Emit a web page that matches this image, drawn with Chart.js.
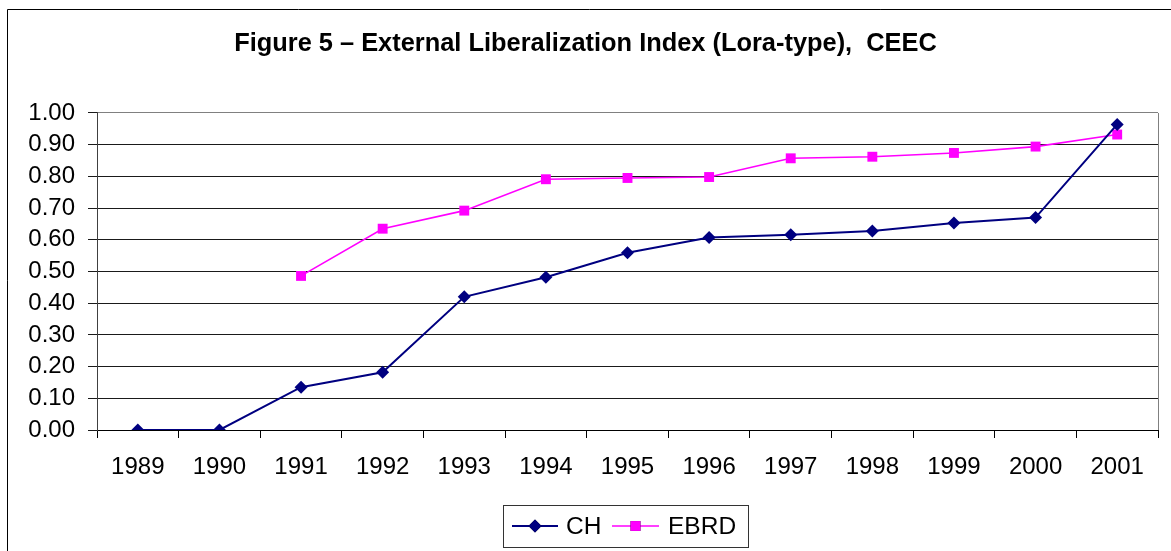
<!DOCTYPE html>
<html>
<head>
<meta charset="utf-8">
<script src="https://cdn.jsdelivr.net/npm/chart.js@4/dist/chart.umd.min.js"></script>
<style>
  html, body { margin: 0; padding: 0; background: #fff; }
  #wrap { width: 1171px; height: 551px; position: relative; }
</style>
</head>
<body>
<div id="wrap"><canvas id="c" width="1171" height="551"></canvas></div>
<script>
const titleText = "Figure 5 \u2013 External Liberalization Index (Lora-type),  CEEC";
const years = ["1989","1990","1991","1992","1993","1994","1995","1996","1997","1998","1999","2000","2001"];
const chValues = [0.000, 0.000, 0.135, 0.182, 0.420, 0.482, 0.559, 0.607, 0.616, 0.628, 0.653, 0.670, 0.964];
const ebrdValues = [null, null, 0.486, 0.635, 0.692, 0.791, 0.795, 0.798, 0.857, 0.862, 0.874, 0.894, 0.932];
const seriesNames = ["CH", "EBRD"];

const FONT = "'Liberation Sans', Arial, sans-serif";

const framePlugin = {
  id: 'frame',
  beforeDraw(chart) {
    const ctx = chart.ctx;
    ctx.save();
    ctx.fillStyle = '#fff';
    ctx.fillRect(0, 0, chart.width, chart.height);
    ctx.strokeStyle = '#000';
    ctx.lineWidth = 1;
    ctx.beginPath();
    ctx.moveTo(7.5, chart.height + 2);
    ctx.lineTo(7.5, 9.5);
    ctx.lineTo(chart.width + 2, 9.5);
    ctx.stroke();
    ctx.restore();
  },
  afterDraw(chart) {
    const ctx = chart.ctx;
    const a = chart.chartArea;
    ctx.save();
    ctx.strokeStyle = '#808080';
    ctx.lineWidth = 1;
    ctx.beginPath();
    ctx.moveTo(Math.round(a.right) + 0.5, a.top);
    ctx.lineTo(Math.round(a.right) + 0.5, a.bottom);
    ctx.stroke();

    const bx = 503.5, by = 505.5, bw = 245, bh = 42;
    ctx.strokeStyle = '#333';
    ctx.strokeRect(bx, by, bw, bh);
    const cy = 526;
    ctx.font = "24.5px " + FONT;
    ctx.textBaseline = 'middle';
    ctx.textAlign = 'left';
    const items = [
      { x1: 512, x2: 558, tx: 566 },
      { x1: 612, x2: 659, tx: 668 }
    ];
    chart.data.datasets.forEach((ds, i) => {
      const it = items[i];
      ctx.strokeStyle = ds.borderColor;
      ctx.lineWidth = ds.borderWidth;
      ctx.beginPath();
      ctx.moveTo(it.x1, cy);
      ctx.lineTo(it.x2, cy);
      ctx.stroke();
      Chart.helpers.drawPoint(ctx, {
        pointStyle: ds.pointStyle,
        radius: ds.pointRadius,
        borderWidth: 0,
        rotation: 0
      }, (it.x1 + it.x2) / 2, cy);
      ctx.fillStyle = ds.pointBackgroundColor;
      ctx.fill();
      ctx.fillStyle = '#000';
      ctx.fillText(ds.label, it.tx, cy + 1);
    });
    ctx.restore();
  }
};

new Chart(document.getElementById('c'), {
  type: 'line',
  data: {
    labels: years,
    datasets: [
      {
        label: seriesNames[0],
        data: chValues,
        borderColor: '#000080',
        backgroundColor: '#000080',
        pointBackgroundColor: '#000080',
        pointBorderColor: '#000080',
        borderWidth: 2,
        pointStyle: 'rectRot',
        pointRadius: 6.5,
        pointBorderWidth: 0,
        tension: 0
      },
      {
        label: seriesNames[1],
        data: ebrdValues,
        borderColor: '#FF00FF',
        backgroundColor: '#FF00FF',
        pointBackgroundColor: '#FF00FF',
        pointBorderColor: '#FF00FF',
        borderWidth: 1.6,
        pointStyle: 'rect',
        pointRadius: 7,
        pointBorderWidth: 0,
        tension: 0
      }
    ]
  },
  options: {
    responsive: false,
    animation: false,
    devicePixelRatio: 1,
    layout: { padding: { left: 13, right: 13, top: 0, bottom: 0 } },
    plugins: {
      legend: { display: false },
      tooltip: { enabled: false },
      title: {
        display: true,
        text: titleText,
        color: '#000',
        font: { family: FONT, size: 25.4, weight: 'bold', lineHeight: 1.2 },
        padding: { top: 29, bottom: 53.5 }
      }
    },
    scales: {
      x: {
        type: 'category',
        offset: true,
        grid: {
          offset: true,
          drawOnChartArea: false,
          drawTicks: true,
          tickLength: 8,
          tickColor: '#000',
          color: '#000'
        },
        border: { display: true, color: '#000', width: 1 },
        ticks: {
          color: '#000',
          font: { family: FONT, size: 24 },
          padding: 15,
          maxRotation: 0,
          autoSkip: false
        },
        afterFit(scale) { scale.height = 121; }
      },
      y: {
        min: 0,
        max: 1,
        grid: {
          color: (ctx) => (ctx.tick && Math.abs(ctx.tick.value - 1) < 1e-9 ? '#808080' : '#1a1a1a'),
          tickColor: '#1a1a1a',
          tickLength: 9,
          lineWidth: 1
        },
        border: { display: true, color: '#404040', width: 1 },
        ticks: {
          stepSize: 0.1,
          autoSkip: false,
          color: '#000',
          font: { family: FONT, size: 24 },
          padding: 13,
          callback: (v) => Number(v).toFixed(2)
        },
        afterFit(scale) { scale.width = 84; }
      }
    }
  },
  plugins: [framePlugin]
});
</script>
</body>
</html>
